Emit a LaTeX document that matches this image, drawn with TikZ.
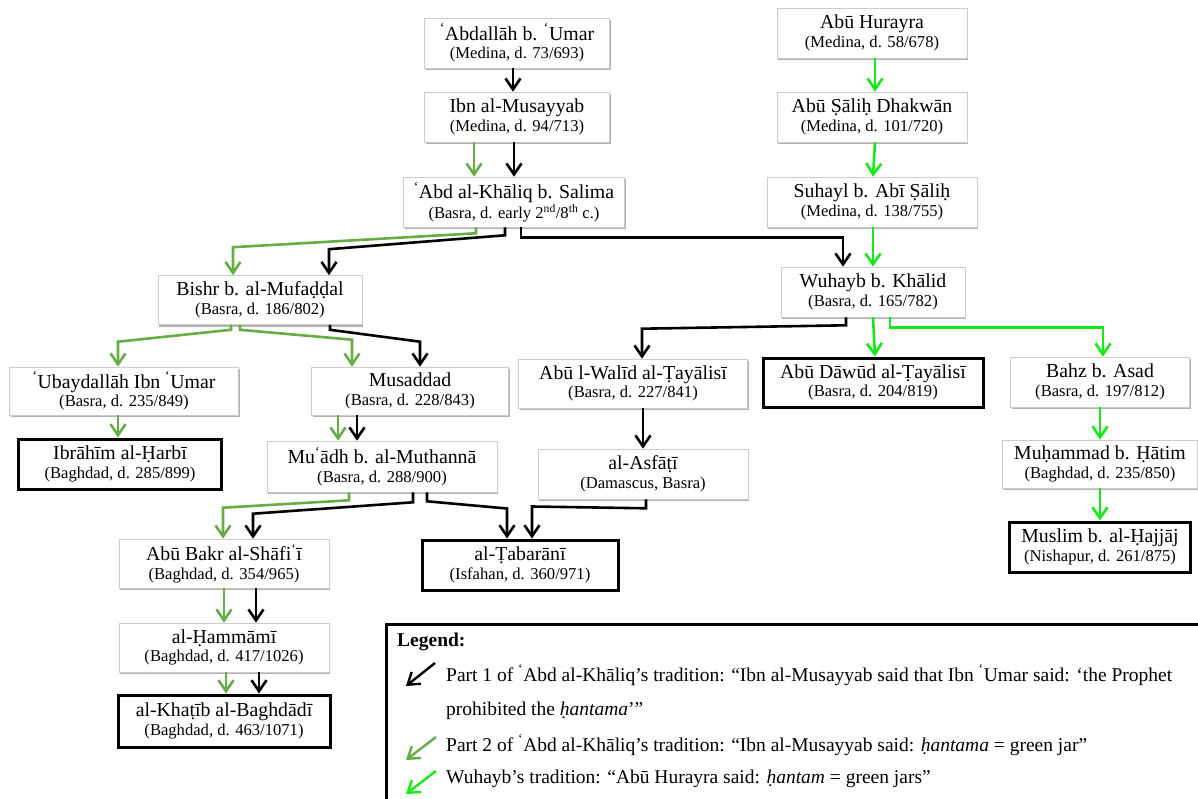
\documentclass[tikz,border=0pt]{standalone}
\usepackage{fontspec}
\setmainfont{Liberation Serif}
\usetikzlibrary{arrows.meta,shadows,calc}

\definecolor{partB}{RGB}{104,172,70}
\definecolor{partC}{RGB}{24,232,24}

% ʿayn written as a small raised quote
\newcommand\ay{\textsuperscript{‘}}
% name on the first line, place and death date on the second
\newcommand\nm[2]{{\fontsize{19.8}{18.5}\selectfont #1}\\{\fontsize{16.6}{18.5}\selectfont #2}}
\newcommand\legtext[1]{{\fontsize{19.5}{22}\selectfont #1}}

\tikzset{
  box/.style={rectangle, fill=white, draw=black!20, line width=0.6pt, inner sep=0pt,
    align=center, font=\fontsize{16.6}{18.5}\selectfont,
    drop shadow={shadow xshift=1.2pt, shadow yshift=-2pt, opacity=0.3, fill=black}},
  final/.style={box, draw=black, line width=3pt},
  sz/.style 2 args={minimum width=#1pt, minimum height=#2pt},
  linkA/.style={draw=black, line width=2.6pt, -{Straight Barb[length=11pt,width=15pt]}},
  linkB/.style={linkA, draw=partB},
  linkC/.style={linkA, draw=partC},
}

\begin{document}
\begin{tikzpicture}[x=1pt, y=-1pt]
\useasboundingbox (0,0) rectangle (1198,799);
\fill[white] (0,0) rectangle (1198,799);
\clip (0,0) rectangle (1198,799);

% --- transmitters ---
\node[box, sz={185}{50}] (abd) at (517,43) {\nm{\ay Abdallāh b. \ay Umar}{(Medina, d. 73/693)}};
\node[box, sz={185}{50}] (ibn) at (517,117) {\nm{Ibn al-Musayyab}{(Medina, d. 94/713)}};
\node[box, sz={221}{50}] (khal) at (514,202) {\nm{\ay Abd al-Khāliq b. Salima}{(Basra, d. early 2\textsuperscript{nd}/8\textsuperscript{th} c.)}};
\node[box, sz={190}{50}] (hur) at (872,33) {\nm{Abū Hurayra}{(Medina, d. 58/678)}};
\node[box, sz={190}{50}] (dhak) at (872,117) {\nm{Abū Ṣāliḥ Dhakwān}{(Medina, d. 101/720)}};
\node[box, sz={210}{50}] (suh) at (872,202) {\nm{Suhayl b. Abī Ṣāliḥ}{(Medina, d. 138/755)}};
\node[box, sz={184}{50}] (wuh) at (873,292) {\nm{Wuhayb b. Khālid}{(Basra, d. 165/782)}};
\node[box, sz={204}{49}] (bishr) at (260,300) {\nm{Bishr b. al-Mufaḍḍal}{(Basra, d. 186/802)}};
\node[box, sz={229}{48}] (ubay) at (124,391) {\nm{\ay Ubaydallāh Ibn \ay Umar}{(Basra, d. 235/849)}};
\node[final, sz={203}{50}] (ibra) at (120,464) {\nm{Ibrāhīm al-Ḥarbī}{(Baghdad, d. 285/899)}};
\node[box, sz={197}{48}] (musad) at (410,391) {\nm{Musaddad}{(Basra, d. 228/843)}};
\node[box, sz={230}{51}] (muadh) at (382,466.5) {\nm{Mu\ay ādh b. al-Muthannā}{(Basra, d. 288/900)}};
\node[box, sz={229}{49}] (walid) at (633,383.5) {\nm{Abū l-Walīd al-Ṭayālisī}{(Basra, d. 227/841)}};
\node[final, sz={220}{49}] (dawud) at (873,382.5) {\nm{Abū Dāwūd al-Ṭayālisī}{(Basra, d. 204/819)}};
\node[box, sz={210}{50}] (asf) at (643,474) {\nm{al-Asfāṭī}{(Damascus, Basra)}};
\node[box, sz={179}{50}] (bahz) at (1100,382) {\nm{Bahz b. Asad}{(Basra, d. 197/812)}};
\node[box, sz={195}{48}] (hatim) at (1100,464) {\nm{Muḥammad b. Ḥātim}{(Baghdad, d. 235/850)}};
\node[final, sz={181}{50}] (muslim) at (1100,547) {\nm{Muslim b. al-Ḥajjāj}{(Nishapur, d. 261/875)}};
\node[box, sz={210}{49}] (bakr) at (224,563.5) {\nm{Abū Bakr al-Shāfi\ay ī}{(Baghdad, d. 354/965)}};
\node[final, sz={196}{50}] (tab) at (520,565) {\nm{al-Ṭabarānī}{(Isfahan, d. 360/971)}};
\node[box, sz={210}{49}] (hamm) at (224,647.5) {\nm{al-Ḥammāmī}{(Baghdad, d. 417/1026)}};
\node[final, sz={212}{52}] (khat) at (224,721) {\nm{al-Khaṭīb al-Baghdādī}{(Baghdad, d. 463/1071)}};

% --- part 1 of ʿAbd al-Khāliq's tradition ---
\draw[linkA] ([xshift=-4pt]abd.south) -- ([xshift=-4pt]ibn.north);
\draw[linkA] ([xshift=-3pt]ibn.south) -- (khal.north);
\draw[linkA] ([xshift=-9pt]khal.south) -- ++(0,8) -- ($([xshift=69pt]bishr.north)+(0,-26)$) -- ([xshift=69pt]bishr.north);
\draw[linkA] ([xshift=7pt]khal.south) -- ++(0,10) -| ([xshift=-30pt]wuh.north);
\draw[linkA] ([xshift=70pt]bishr.south) -- ++(0,5) -- ($([xshift=10pt]musad.north)+(0,-25)$) -- ([xshift=10pt]musad.north);
\draw[linkA] ([xshift=-53pt]musad.south) -- ([xshift=-25pt]muadh.north);
\draw[linkA] ([xshift=31pt]muadh.south) -- ++(0,10) -- ($([xshift=29pt]bakr.north)+(0,-25)$) -- ([xshift=29pt]bakr.north);
\draw[linkA] ([xshift=45pt]muadh.south) -- ++(0,9) -- ($([xshift=-13pt]tab.north)+(0,-30)$) -- ([xshift=-13pt]tab.north);
\draw[linkA] ([xshift=3pt]asf.south) -- ++(0,9) -- ($([xshift=12pt]tab.north)+(0,-32)$) -- ([xshift=12pt]tab.north);
\draw[linkA] ([xshift=32pt]bakr.south) -- ([xshift=32pt]hamm.north);
\draw[linkA] ([xshift=35pt]hamm.south) -- ([xshift=35pt]khat.north);
\draw[linkA] ([xshift=-27pt]wuh.south) -- ++(0,8) -- ($([xshift=9pt]walid.north)+(0,-30)$) -- ([xshift=9pt]walid.north);
\draw[linkA] ([xshift=10pt]walid.south) -- (asf.north);

% --- part 2 of ʿAbd al-Khāliq's tradition ---
\draw[linkB] ([xshift=-43pt]ibn.south) -- ([xshift=-40pt]khal.north);
\draw[linkB] ([xshift=-38pt]khal.south) -- ++(0,6) -- ($([xshift=-27pt]bishr.north)+(0,-28)$) -- ([xshift=-27pt]bishr.north);
\draw[linkB] ([xshift=-29pt]bishr.south) -- ++(0,5) -- ($([xshift=-6pt]ubay.north)+(0,-25)$) -- ([xshift=-6pt]ubay.north);
\draw[linkB] ([xshift=-20pt]bishr.south) -- ++(0,5) -- ($([xshift=-58pt]musad.north)+(0,-27)$) -- ([xshift=-58pt]musad.north);
\draw[linkB] ([xshift=-6pt]ubay.south) -- ([xshift=-2pt]ibra.north);
\draw[linkB] ([xshift=-72pt]musad.south) -- ([xshift=-44pt]muadh.north);
\draw[linkB] ([xshift=-33pt]muadh.south) -- ++(0,8) -- ($([xshift=-1pt]bakr.north)+(0,-31)$) -- ([xshift=-1pt]bakr.north);
\draw[linkB] (bakr.south) -- (hamm.north);
\draw[linkB] ([xshift=2pt]hamm.south) -- ([xshift=2pt]khat.north);

% --- Wuhayb's tradition ---
\draw[linkC] ([xshift=3pt]hur.south) -- ([xshift=3pt]dhak.north);
\draw[linkC] ([xshift=3pt]dhak.south) -- ([xshift=1pt]suh.north);
\draw[linkC] ([xshift=1pt]suh.south) -- (wuh.north);
\draw[linkC] (wuh.south) -- ([xshift=2pt]dawud.north);
\draw[linkC] ([xshift=17pt]wuh.south) -- ++(0,10) -| ([xshift=3pt]bahz.north);
\draw[linkC] (bahz.south) -- (hatim.north);
\draw[linkC] (hatim.south) -- (muslim.north);

% --- legend ---
\draw[line width=3pt] (386,624) rectangle (1230,830);
\node[anchor=base west, inner sep=0pt, font=\bfseries\fontsize{19.5}{22}\selectfont] (lgt) at (397,646) {Legend:};
\coordinate (l1a) at (435,663); \coordinate (l1b) at (406,686);
\coordinate (l2a) at (436,737); \coordinate (l2b) at (406,760);
\coordinate (l3a) at (436,771); \coordinate (l3b) at (406,794);
\draw[linkA, line width=2.4pt] (l1a) -- (l1b);
\draw[linkB, line width=2.4pt] (l2a) -- (l2b);
\draw[linkC, line width=2.4pt] (l3a) -- (l3b);
\node[anchor=west, inner sep=0pt] (lg1) at (446,675) {\legtext{Part 1 of \ay Abd al-Khāliq’s tradition: “Ibn al-Musayyab said that Ibn \ay Umar said: ‘the Prophet}};
\node[anchor=west, inner sep=0pt] (lg2) at (446,711) {\legtext{prohibited the \textit{ḥantama}’”}};
\node[anchor=west, inner sep=0pt] (lg3) at (446,745) {\legtext{Part 2 of \ay Abd al-Khāliq’s tradition: “Ibn al-Musayyab said: \textit{ḥantama} = green jar”}};
\node[anchor=west, inner sep=0pt] (lg4) at (446,779) {\legtext{Wuhayb’s tradition: “Abū Hurayra said: \textit{ḥantam} = green jars”}};
\end{tikzpicture}
\end{document}
